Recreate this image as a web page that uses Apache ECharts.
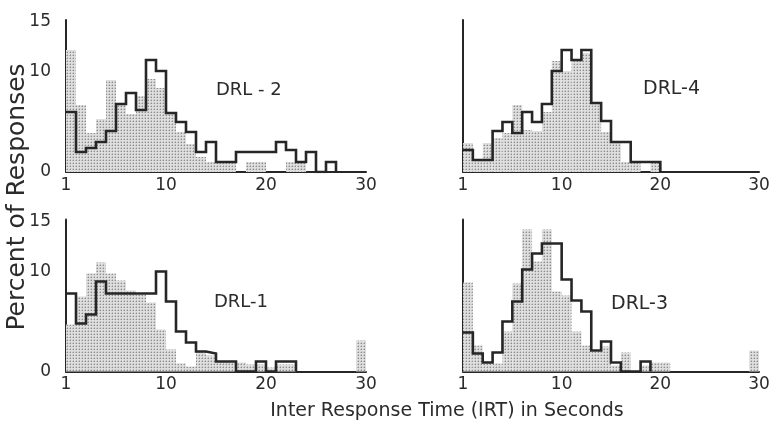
<!DOCTYPE html>
<html>
<head>
<meta charset="utf-8">
<script src="https://cdn.jsdelivr.net/npm/echarts@6/dist/echarts.min.js"></script>
<style>
html,body{margin:0;padding:0;background:#fff;}
#chart{width:777px;height:430px;}
</style>
</head>
<body>
<div id="chart"></div>
<script>
// IRT bins of 1 s (bin i spans [i-1, i] on the axis)
const xTickValues = [0, 10, 20, 30];
const xTickLabels = ['1', '10', '20', '30'];
const yTickValues = [0, 10, 15];
const yTickLabels = ['0', '10', '15'];

// DRL-2 (top left)
const drl2Stipple = [12.2, 6.7, 3.9, 5.3, 9.2, 6.8, 5.8, 7.6, 9.3, 8.4, 6.0, 4.0, 2.8, 1.5, 1.0, 1.0, 1.0, 0, 1.0, 1.0, 0, 0, 1.0, 1.0, 0, 0, 0, 0, 0, 0];
const drl2Outline = [6.0, 2.0, 2.4, 3.0, 4.1, 6.8, 7.9, 6.2, 11.2, 10.1, 5.9, 5.0, 4.0, 2.0, 3.0, 1.0, 1.0, 2.0, 2.0, 2.0, 2.0, 3.0, 2.2, 1.0, 2.0, 0, 1.0];
// DRL-4 (top right)
const drl4Stipple = [2.9, 1.1, 2.9, 3.4, 3.9, 6.7, 4.2, 4.1, 6.0, 11.1, 10.1, 11.2, 11.9, 6.9, 4.0, 2.9, 1.0, 1.0, 0, 1.0];
const drl4Outline = [2.2, 1.2, 1.2, 4.1, 5.0, 3.9, 6.0, 5.0, 6.8, 10.1, 12.2, 11.2, 12.2, 6.9, 5.1, 3.0, 3.0, 1.0, 1.0, 1.0];
// DRL-1 (bottom left)
const drl1Stipple = [4.7, 7.5, 9.8, 10.9, 9.8, 9.1, 8.1, 7.7, 6.9, 4.2, 2.2, 0.8, 0.5, 2.0, 1.6, 0.9, 0.9, 0.9, 0.7, 0.7, 0.4, 0.7, 0.7, 0, 0, 0, 0, 0, 0, 3.1];
const drl1Outline = [7.8, 4.8, 5.7, 9.0, 7.8, 7.8, 7.8, 7.8, 7.8, 10.0, 7.0, 4.0, 2.9, 2.0, 1.8, 1.0, 1.0, 0, 0, 1.0, 0, 1.0, 1.0];
// DRL-3 (bottom right)
const drl3Stipple = [8.9, 2.6, 1.0, 0.8, 4.0, 8.8, 14.2, 11.0, 14.2, 8.0, 7.6, 4.0, 2.6, 2.0, 2.5, 0.6, 1.9, 0, 0.6, 0.9, 0.9, 0, 0, 0, 0, 0, 0, 0, 0, 2.1];
const drl3Outline = [3.9, 1.8, 0.9, 1.9, 5.0, 7.0, 10.2, 11.8, 12.8, 12.8, 9.2, 7.1, 6.0, 2.1, 3.0, 0.9, 0, 0, 1.0];

const panelNames = ['DRL - 2', 'DRL-4', 'DRL-1', 'DRL-3'];

// stipple pattern
const tile = document.createElement('canvas');
tile.width = 3; tile.height = 3;
const tctx = tile.getContext('2d');
tctx.fillStyle = '#dedede';
tctx.fillRect(0, 0, 3, 3);
tctx.fillStyle = '#8c8c8c';
tctx.fillRect(1, 1, 1, 1);
tctx.fillStyle = '#bdbdbd';
tctx.fillRect(0, 1, 1, 1);
tctx.fillRect(1, 0, 1, 1);
const stipple = { image: tile, repeat: 'repeat' };

const INK = '#262626';
const TXT = '#2b2b2b';
const FONT = 'DejaVu Sans';

const grids = [
  { left: 66, top: 20, width: 300, height: 152 },
  { left: 463, top: 20, width: 296, height: 152 },
  { left: 66, top: 219.5, width: 300, height: 152 },
  { left: 463, top: 219.5, width: 296, height: 152 }
];

function xAxisFor(i) {
  return {
    gridIndex: i, type: 'value', min: 0, max: 30,
    axisLine: { show: true, lineStyle: { color: INK, width: 2 } },
    axisTick: { show: false }, splitLine: { show: false },
    axisLabel: {
      customValues: xTickValues, margin: 5,
      color: TXT, fontFamily: FONT, fontSize: 17,
      formatter: v => xTickLabels[xTickValues.indexOf(v)]
    }
  };
}
function yAxisFor(i, labels) {
  return {
    gridIndex: i, type: 'value', min: 0, max: 15.2,
    axisLine: { show: true, onZero: false, lineStyle: { color: INK, width: 2 } },
    axisTick: { show: false }, splitLine: { show: false },
    axisLabel: labels ? {
      customValues: yTickValues, margin: 15,
      color: TXT, fontFamily: FONT, fontSize: 17,
      formatter: v => yTickLabels[yTickValues.indexOf(v)]
    } : { show: false }
  };
}

function stippleSeries(vals, idx) {
  return {
    type: 'custom', xAxisIndex: idx, yAxisIndex: idx, z: 2,
    data: vals.map((v, i) => [i, i + 1, v]),
    encode: { x: [0, 1], y: 2 },
    renderItem: (params, api) => {
      const p0 = api.coord([api.value(0), api.value(2)]);
      const p1 = api.coord([api.value(1), 0]);
      return {
        type: 'rect',
        shape: { x: p0[0], y: p0[1], width: p1[0] - p0[0], height: p1[1] - p0[1] },
        style: { fill: stipple, stroke: null }
      };
    },
    silent: true
  };
}
function outlineSeries(vals, idx) {
  const pts = vals.map((v, i) => [i, v]);
  pts.push([vals.length, 0]);
  return {
    type: 'line', step: 'end', xAxisIndex: idx, yAxisIndex: idx, z: 3,
    data: pts, symbol: 'none', silent: true,
    lineStyle: { color: INK, width: 2.6, join: 'miter' }
  };
}

const chart = echarts.init(document.getElementById('chart'), null, { renderer: 'canvas' });
chart.setOption({
  backgroundColor: '#fff',
  animation: false,
  grid: grids,
  xAxis: [0, 1, 2, 3].map(xAxisFor),
  yAxis: [yAxisFor(0, true), yAxisFor(1, false), yAxisFor(2, true), yAxisFor(3, false)],
  series: [
    stippleSeries(drl2Stipple, 0), outlineSeries(drl2Outline, 0),
    stippleSeries(drl4Stipple, 1), outlineSeries(drl4Outline, 1),
    stippleSeries(drl1Stipple, 2), outlineSeries(drl1Outline, 2),
    stippleSeries(drl3Stipple, 3), outlineSeries(drl3Outline, 3)
  ],
  graphic: [
    { type: 'text', left: 216, top: 81, style: { text: panelNames[0], fill: TXT, font: '18px "DejaVu Sans"' } },
    { type: 'text', left: 643, top: 80, style: { text: panelNames[1], fill: TXT, font: '19px "DejaVu Sans"' } },
    { type: 'text', left: 214, top: 293, style: { text: panelNames[2], fill: TXT, font: '18px "DejaVu Sans"' } },
    { type: 'text', left: 611, top: 295, style: { text: panelNames[3], fill: TXT, font: '19px "DejaVu Sans"' } },
    { type: 'text', x: 17, y: 197, rotation: Math.PI / 2,
      style: { text: 'Percent of Responses', fill: TXT, font: '25px "DejaVu Sans"', align: 'center', verticalAlign: 'middle' } },
    { type: 'text', x: 447, y: 411,
      style: { text: 'Inter Response Time (IRT) in Seconds', fill: TXT, font: '19px "DejaVu Sans"', align: 'center', verticalAlign: 'middle' } }
  ]
});
</script>
</body>
</html>
